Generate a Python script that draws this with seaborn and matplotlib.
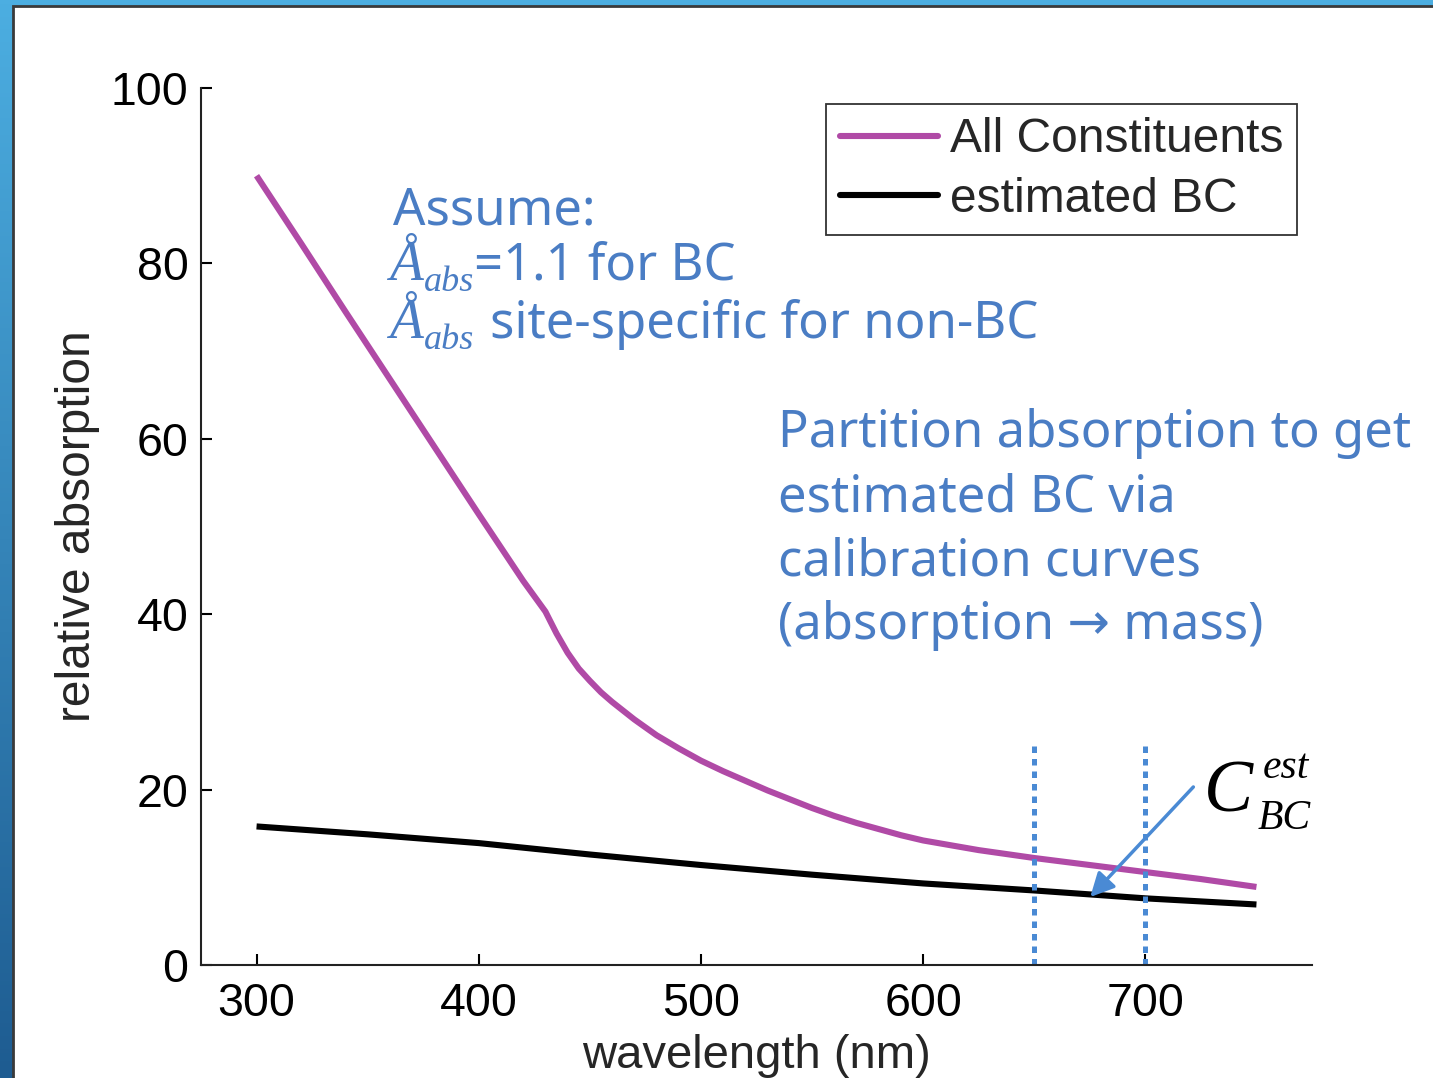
import numpy as np
import pandas as pd
import matplotlib
matplotlib.use("Agg")
import matplotlib.pyplot as plt
from matplotlib.patches import Rectangle
import seaborn as sns

# ---- data -------------------------------------------------------------
wavelength_all = [300, 320, 340, 360, 380, 400, 420, 430, 435, 440, 445, 450,
                  455, 460, 465, 470, 475, 480, 490, 500, 510, 520, 530, 540,
                  550, 560, 570, 580, 590, 600, 625, 650, 675, 700, 725, 750]
absorption_all = [90.0, 82.3, 74.5, 66.8, 59.1, 51.4, 43.8, 40.3, 37.8, 35.6,
                  33.8, 32.4, 31.1, 30.0, 29.0, 28.0, 27.1, 26.2, 24.7, 23.3,
                  22.1, 21.0, 19.9, 18.9, 17.9, 17.0, 16.2, 15.5, 14.8, 14.2,
                  13.1, 12.2, 11.4, 10.6, 9.8, 8.9]
wavelength_bc = [300, 350, 400, 450, 500, 550, 600, 650, 700, 750]
absorption_bc = [15.8, 14.9, 13.9, 12.6, 11.4, 10.3, 9.3, 8.5, 7.6, 6.9]
series_names = ["All Constituents", "estimated BC"]

x_ticks = [300, 400, 500, 600, 700]
y_ticks = [0, 20, 40, 60, 80, 100]
window_edges = [650, 700]          # calibration window (nm)
window_top = 25.6
arrow_tail = (721.6, 20.3)
arrow_head = (675.2, 7.75)

df = pd.concat([
    pd.DataFrame({"wavelength": wavelength_all, "absorption": absorption_all,
                  "series": series_names[0]}),
    pd.DataFrame({"wavelength": wavelength_bc, "absorption": absorption_bc,
                  "series": series_names[1]}),
])

# ---- style --------------------------------------------------------------
sns.set_style("ticks")
plt.rcParams["font.family"] = ["Liberation Sans", "DejaVu Sans"]

W, H = 1433, 1078
fig = plt.figure(figsize=(W / 100, H / 100), dpi=100)


def fp(x, y):
    return x / W, 1 - y / H


# slide background: blue frame with a white panel
bg = fig.add_axes([0, 0, 1, 1], zorder=-10)
top_c = np.array([76, 174, 225]) / 255
bot_c = np.array([30, 92, 145]) / 255
t = np.linspace(0, 1, 256)[:, None]
grad = (1 - t)[..., None] * top_c + t[..., None] * bot_c
grad = np.repeat(grad, 4, axis=1)
bg.imshow(grad, aspect="auto", extent=[0, 1, 0, 1])
bg.set_axis_off()
bg.add_patch(Rectangle((13 / W, -0.05), 1.1, 1.05 - 6 / H,
                       transform=bg.transAxes, facecolor="white",
                       edgecolor="#3a3a3a", linewidth=2))

ax = fig.add_axes([201 / W, 1 - 965 / H, 1111 / W, 877 / H])
ax.patch.set_alpha(0)

purple = "#B04AA6"
blue = "#4A8AD4"
text_blue = "#4A7DC4"

sns.lineplot(data=df, x="wavelength", y="absorption", hue="series",
             palette=[purple, "black"], linewidth=4.4, ax=ax, legend=False,
             sort=False)
for ln in ax.lines:
    ln.set_solid_joinstyle("round")
    ln.set_solid_capstyle("butt")

ax.set_xlim(275, 775)
ax.set_ylim(0, 100)
ax.set_xticks(x_ticks)
ax.set_yticks(y_ticks)
ax.tick_params(direction="in", length=8, width=1.5, labelsize=33.5,
               colors="black")
ax.tick_params(axis="y", pad=9)
ax.tick_params(axis="x", pad=12)
for s in ("top", "right"):
    ax.spines[s].set_visible(False)
for s in ("left", "bottom"):
    ax.spines[s].set_linewidth(1.5)
    ax.spines[s].set_color("#222222")
ax.set_xlabel("wavelength (nm)", fontsize=34, labelpad=6)
ax.set_ylabel("relative absorption", fontsize=34.5, labelpad=8)

# calibration window and arrow
ax.vlines(window_edges, 0, window_top, colors=blue, linewidth=3.6,
          linestyles=(0, (1.3, 1.2)), capstyle="butt")
ax.annotate("", xy=arrow_head, xytext=arrow_tail,
            arrowprops=dict(arrowstyle="-|>", color=blue, lw=2.5,
                            mutation_scale=36, shrinkA=0, shrinkB=0))

# legend
handles = [plt.Line2D([], [], color=purple, lw=4.4),
           plt.Line2D([], [], color="black", lw=4.4)]
leg = ax.legend(handles, series_names, loc="upper right",
                bbox_to_anchor=fp(1297, 104), bbox_transform=fig.transFigure,
                fontsize=34.5, frameon=True, fancybox=False,
                handlelength=2.05, handletextpad=0.25, borderpad=0.28,
                labelspacing=0.3, borderaxespad=0)
leg.get_frame().set_edgecolor("black")
leg.get_frame().set_linewidth(1.3)

# annotations
sans = ["Noto Sans", "DejaVu Sans"]
serif = ["Liberation Serif", "DejaVu Serif"]
fs = 36.6
fig.text(*fp(393, 224), "Assume:", color=text_blue, fontsize=fs, family=sans)
fig.text(*fp(389, 280), "Å", color=text_blue, fontsize=40, family=serif,
         style="italic")
fig.text(*fp(424, 291), "abs", color=text_blue, fontsize=26, family=serif,
         style="italic")
fig.text(*fp(474, 280), "=1.1 for BC", color=text_blue, fontsize=fs,
         family=sans)
fig.text(*fp(389, 338), "Å", color=text_blue, fontsize=40, family=serif,
         style="italic")
fig.text(*fp(424, 349), "abs", color=text_blue, fontsize=26, family=serif,
         style="italic")
fig.text(*fp(490, 338), "site-specific for non-BC", color=text_blue,
         fontsize=fs, family=sans)

right_lines = ["Partition absorption to get", "estimated BC via",
               "calibration curves", "(absorption \u2192 mass)"]
for i, line in enumerate(right_lines):
    fig.text(*fp(778, 447 + 64 * i), line, color=text_blue, fontsize=fs,
             family=sans)

fig.text(*fp(1204, 811), "C", color="black", fontsize=53, family=serif,
         style="italic")
fig.text(*fp(1263, 778), "est", color="black", fontsize=30, family=serif,
         style="italic")
fig.text(*fp(1258, 829), "BC", color="black", fontsize=30, family=serif,
         style="italic")

fig.savefig("out.png", dpi=100)
